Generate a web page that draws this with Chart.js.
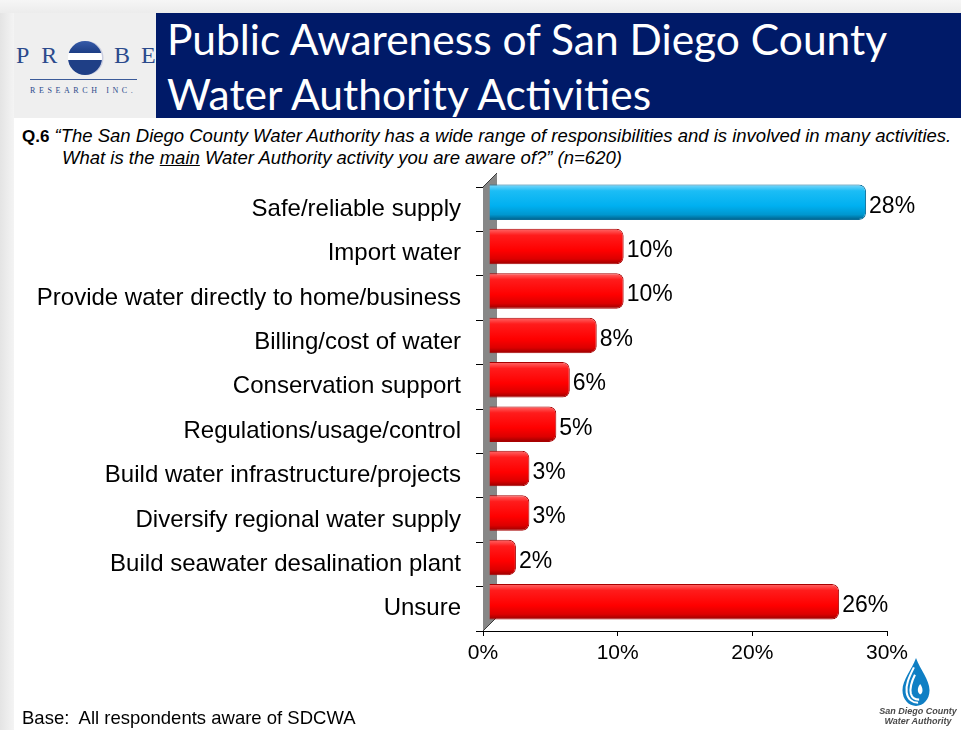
<!DOCTYPE html>
<html>
<head>
<meta charset="utf-8">
<script src="https://cdn.jsdelivr.net/npm/chart.js@4.4.1/dist/chart.umd.min.js"></script>
<style>
  html,body{margin:0;padding:0;}
  body{width:961px;height:730px;position:relative;overflow:hidden;background:#fff;font-family:"Liberation Sans",Arial,sans-serif;}
  .abs{position:absolute;white-space:nowrap;}
  #chart{position:absolute;left:0;top:0;}
</style>
</head>
<body>
<div class="abs" style="left:0;top:0;width:14px;height:730px;background:linear-gradient(to right,#e4e4e4,#f4f4f4);"></div>
<div class="abs" style="left:0;top:0;width:961px;height:13px;background:linear-gradient(to bottom,#f6f6f6,#ececec);"></div>
<div class="abs" style="left:14px;top:13px;width:142px;height:105px;background:#efefef;"></div>
<div class="abs" style="left:156px;top:13px;width:805px;height:105px;background:#001a68;"></div>
<div class="abs" style="left:167px;top:18px;font-family:Lato,'Open Sans',sans-serif;font-size:42.5px;line-height:42px;color:#fff;">Public Awareness of San Diego County</div>
<div class="abs" style="left:167px;top:73px;font-family:Lato,'Open Sans',sans-serif;font-size:42.5px;line-height:42px;color:#fff;">Water Authority Activities</div>

<!-- PROBE logo -->
<div class="abs" style="left:16px;top:44px;font-family:'Liberation Serif','DejaVu Serif',serif;font-size:24px;line-height:23px;color:#2b4a8c;letter-spacing:12px;">PR</div>
<div class="abs" style="left:114px;top:44px;font-family:'Liberation Serif','DejaVu Serif',serif;font-size:24px;line-height:23px;color:#2b4a8c;letter-spacing:11px;">BE</div>
<svg class="abs" style="left:67px;top:39px;" width="38" height="38" viewBox="0 0 38 38">
  <defs>
    <linearGradient id="pg" x1="0" y1="0" x2="0" y2="1">
      <stop offset="0" stop-color="#3a5fae"/><stop offset="1" stop-color="#1c3d84"/>
    </linearGradient>
    <clipPath id="cc"><circle cx="18" cy="19" r="17"/></clipPath>
  </defs>
  <circle cx="19.5" cy="19" r="17" fill="#c9cde0"/>
  <g clip-path="url(#cc)">
    <rect x="0" y="0" width="38" height="14" fill="url(#pg)"/>
    <rect x="0" y="14" width="38" height="7" fill="#ffffff"/>
    <rect x="0" y="21" width="38" height="17" fill="#1f3f86"/>
  </g>
</svg>
<div class="abs" style="left:30px;top:79px;width:107px;height:1px;background:#3b5a98;"></div>
<div class="abs" style="left:30px;top:86px;font-family:'Liberation Serif','DejaVu Serif',serif;font-size:8px;line-height:9px;color:#2b4a8c;letter-spacing:3.6px;">RESEARCH INC.</div>

<!-- question -->
<div class="abs" style="left:22px;top:127px;font-size:18.5px;line-height:18px;color:#000;"><b style="font-size:17px;">Q.6</b> <i>“The San Diego County Water Authority has a wide range of responsibilities and is involved in many activities.</i></div>
<div class="abs" style="left:62px;top:149px;font-size:18.5px;line-height:18px;color:#000;"><i>What is the <u>main</u> Water Authority activity you are aware of?” (n=620)</i></div>

<canvas id="chart" width="961" height="730"></canvas>

<div class="abs" style="left:22px;top:709px;font-size:18.5px;line-height:18px;color:#000;">Base:&nbsp; All respondents aware of SDCWA</div>

<!-- SDCWA logo -->
<svg class="abs" style="left:899px;top:657px;" width="34" height="52" viewBox="0 0 32 50">
  <path d="M16 1 C 12 12, 3 22, 3 32 C 3 41, 9 47, 16 47 C 23 47, 29 41, 29 32 C 29 22, 20 12, 16 1 Z" fill="#0f7fc4"/>
  <path d="M14 10 C 9 20, 6 27, 7 34 C 8 41, 13 44, 18 44" fill="none" stroke="#fff" stroke-width="2"/>
  <path d="M15 17 C 11 25, 10 30, 11 35 C 12 39, 15 41, 19 41" fill="none" stroke="#fff" stroke-width="2"/>
  <path d="M20 26 C 17 30, 17 34, 20 36 C 23 35, 23 30, 20 26 Z" fill="#fff"/>
</svg>
<div class="abs" style="left:878px;top:706px;width:80px;text-align:center;font-size:9px;line-height:10px;font-weight:bold;font-style:italic;color:#4a4a4a;">San Diego County<br>Water Authority</div>

<script>
const categories = [
  "Safe/reliable supply",
  "Import water",
  "Provide water directly to home/business",
  "Billing/cost of water",
  "Conservation support",
  "Regulations/usage/control",
  "Build water infrastructure/projects",
  "Diversify regional water supply",
  "Build seawater desalination plant",
  "Unsure"
];
const percentValues = [28, 10, 10, 8, 6, 5, 3, 3, 2, 26];
const xTickValues = [0, 10, 20, 30];

const SHIFT_X = 6, SHIFT_Y = -7, DEPTH = 14;

function barFill(c) {
  const blue = c.dataIndex === 0;
  const base = blue ? '#00b0f0' : '#ff0000';
  const ch = c.chart;
  const sy = ch.scales && ch.scales.y;
  if (!sy || !ch.chartArea) return base;
  const yc = sy.getPixelForValue(c.dataIndex);
  const h = (sy.bottom - sy.top) / categories.length * 0.8;
  const g = ch.ctx.createLinearGradient(0, yc - h / 2, 0, yc + h / 2);
  if (blue) {
    g.addColorStop(0, '#7fd8fb');
    g.addColorStop(0.18, '#1cbdf5');
    g.addColorStop(0.6, '#00b0f0');
    g.addColorStop(0.85, '#0097cf');
    g.addColorStop(1, '#005f88');
  } else {
    g.addColorStop(0, '#ff6a6a');
    g.addColorStop(0.18, '#ff1c1c');
    g.addColorStop(0.6, '#ff0000');
    g.addColorStop(0.85, '#dc0000');
    g.addColorStop(1, '#960000');
  }
  return g;
}

const decor = {
  id: 'decor',
  beforeDatasetsDraw(chart) {
    const { ctx, chartArea: a } = chart;
    ctx.save();
    ctx.beginPath();
    ctx.moveTo(a.left, a.top);
    ctx.lineTo(a.left + DEPTH, a.top - DEPTH);
    ctx.lineTo(a.left + DEPTH, a.bottom - DEPTH);
    ctx.lineTo(a.left, a.bottom);
    ctx.closePath();
    ctx.fillStyle = '#878787';
    ctx.fill();
    ctx.strokeStyle = '#3a3a3a';
    ctx.lineWidth = 1;
    ctx.beginPath();
    ctx.moveTo(a.left, a.top);
    ctx.lineTo(a.left + DEPTH, a.top - DEPTH);
    ctx.moveTo(a.left, a.bottom);
    ctx.lineTo(a.left + DEPTH, a.bottom - DEPTH);
    ctx.stroke();
    ctx.restore();
    ctx.save();
    ctx.translate(SHIFT_X, SHIFT_Y);
  },
  afterDatasetsDraw(chart) {
    const ctx = chart.ctx;
    ctx.restore();
    const meta = chart.getDatasetMeta(0);
    ctx.save();
    ctx.font = '23px "Liberation Sans", Arial, sans-serif';
    ctx.fillStyle = '#000';
    ctx.textAlign = 'left';
    ctx.textBaseline = 'middle';
    meta.data.forEach((bar, i) => {
      ctx.fillText(percentValues[i] + '%', bar.x + SHIFT_X + 3, bar.y - 3);
    });
    ctx.restore();
  }
};

new Chart(document.getElementById('chart'), {
  type: 'bar',
  data: {
    labels: categories,
    datasets: [{
      data: percentValues,
      backgroundColor: barFill,
      borderColor: (c) => c.dataIndex === 0 ? '#0a6d98' : '#a80000',
      borderWidth: 1,
      borderRadius: 7,
      borderSkipped: 'start',
      barPercentage: 0.8,
      categoryPercentage: 1,
      clip: false
    }]
  },
  options: {
    indexAxis: 'y',
    responsive: false,
    animation: false,
    devicePixelRatio: 1,
    layout: { padding: { top: 187, right: 74, left: 0, bottom: 0 } },
    plugins: { legend: { display: false }, tooltip: { enabled: false } },
    scales: {
      x: {
        min: 0, max: 30,
        afterBuildTicks: (s) => { s.ticks = xTickValues.map(v => ({ value: v })); },
        afterFit: (s) => { s.height = 99; },
        ticks: {
          callback: (v) => v + '%',
          color: '#000',
          font: { family: '"Liberation Sans", Arial, sans-serif', size: 21 },
          padding: 5,
          maxRotation: 0
        },
        grid: { drawOnChartArea: false, drawTicks: true, tickLength: 5, color: '#000' },
        border: { color: '#000', width: 1 }
      },
      y: {
        afterFit: (s) => { s.width = 483; },
        ticks: {
          color: '#000',
          font: { family: '"Liberation Sans", Arial, sans-serif', size: 24 },
          padding: 15
        },
        grid: { offset: true, drawOnChartArea: false, drawTicks: true, tickLength: 7, color: '#000' },
        border: { color: '#000', width: 1 }
      }
    }
  },
  plugins: [decor]
});
</script>
</body>
</html>
